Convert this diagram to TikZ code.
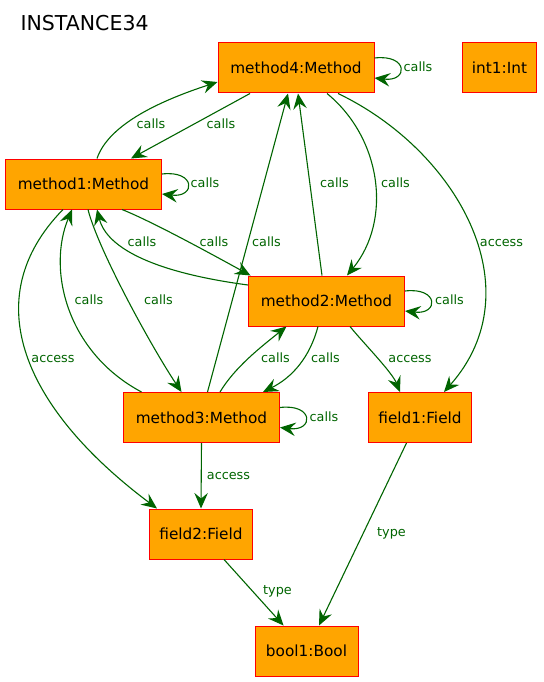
\documentclass[tikz,border=0pt]{standalone}
\usepackage{fontspec}
\setmainfont{DejaVu Sans}
\usetikzlibrary{arrows.meta}
\definecolor{boxfill}{HTML}{FFA500}
\definecolor{edgegreen}{HTML}{006400}

\begin{document}
\begin{tikzpicture}[
  x=1pt, y=-1pt,
  obj/.style={rectangle, draw=red, line width=1pt, fill=boxfill, minimum height=50pt,
    inner sep=0pt, font=\fontsize{15.3}{18}\selectfont},
  meth/.style={obj, minimum width=156pt},
  fld/.style={obj, minimum width=103pt},
  edge/.style={draw=edgegreen, line width=1.1pt, -{Stealth[length=15.5pt, width=13.5pt, inset=5.5pt]}},
  lbl/.style={text=edgegreen, inner sep=0pt, text height=9pt, text depth=0pt,
    font=\fontsize{12.8}{15}\selectfont}
]
\useasboundingbox (0,0) rectangle (543,682);

\node[anchor=base west, font=\fontsize{20.5}{24}\selectfont] (title) at (17,31) {INSTANCE34};

\node[meth] (m4) at (296,68) {method4:Method};
\node[obj, minimum width=74pt] (int1) at (499.5,68) {int1:Int};
\node[meth] (m1) at (83.5,184) {method1:Method};
\node[meth] (m2) at (326.5,301) {method2:Method};
\node[meth] (m3) at (201.5,417.5) {method3:Method};
\node[fld] (f1) at (420,417.5) {field1:Field};
\node[fld] (f2) at (201,534) {field2:Field};
\node[fld] (b1) at (306.5,651) {bool1:Bool};

% self calls
\foreach \m in {m4,m1,m2,m3} {
  \draw[edge] ([yshift=10pt]\m.east) .. controls +(34,-4) and +(34,4) .. ([yshift=-10pt]\m.east);
}
\node[lbl] (l44) at (418,67) {calls};
\node[lbl] (l11) at (205,183) {calls};
\node[lbl] (l22) at (449.5,299.5) {calls};
\node[lbl] (l33) at (324,416.5) {calls};

% calls between methods
\draw[edge] ([xshift=13.5pt]m1.north) .. controls +(12,-35) and +(-55,18) .. ([yshift=-14pt]m4.west);
\draw[edge] ([xshift=-46pt]m4.south) -- ([xshift=47.5pt]m1.north);
\draw[edge] ([xshift=6pt]m3.north) -- ([xshift=-8pt]m4.south);
\draw[edge] ([xshift=-4.5pt]m2.north) -- ([xshift=2pt]m4.south);
\draw[edge] ([xshift=31pt]m4.south) .. controls +(55,45) and +(45,-55) .. ([xshift=20.5pt]m2.north);
\draw[edge] ([xshift=38.5pt]m1.south) .. controls +(30,12) and +(-40,-22) .. ([xshift=-76pt]m2.north);
\draw[edge] ([yshift=16pt]m2.west) .. controls +(-90,-12) and +(10,40) .. ([xshift=13.5pt]m1.south);
\draw[edge] ([xshift=4.5pt]m1.south) .. controls +(10,40) and +(-30,-45) .. ([xshift=-20pt]m3.north);
\draw[edge] ([xshift=-60pt]m3.north) .. controls +(-75,-40) and +(-25,60) .. ([xshift=-11.5pt]m1.south);
\draw[edge] ([xshift=18.5pt]m3.north) .. controls +(15,-25) and +(-25,20) .. ([xshift=-40pt]m2.south);
\draw[edge] ([xshift=-8.5pt]m2.south) .. controls +(-8,30) and +(30,-15) .. ([xshift=61.5pt]m3.north);

\node[lbl] (l14) at (151,124) {calls};
\node[lbl] (l41) at (221,124) {calls};
\node[lbl] (l24) at (334.5,183) {calls};
\node[lbl] (l42) at (395.5,183) {calls};
\node[lbl] (l21) at (142,241.5) {calls};
\node[lbl] (l12) at (214,241.5) {calls};
\node[lbl] (l34) at (266.5,241.5) {calls};
\node[lbl] (l31) at (89,299.5) {calls};
\node[lbl] (l13) at (158.5,299.5) {calls};
\node[lbl] (l32) at (275.5,358) {calls};
\node[lbl] (l23) at (325.5,358) {calls};

% access and type
\draw[edge] ([xshift=42pt]m4.south) .. controls +(119,57) and +(91,-103) .. ([xshift=24pt]f1.north);
\draw[edge] ([xshift=-20.5pt]m1.south) .. controls +(-88,90) and +(-132,-99) .. ([xshift=-44pt]f2.north);
\draw[edge] ([xshift=23.5pt]m2.south) .. controls +(12,15) and +(-8,-20) .. ([xshift=-20pt]f1.north);
\draw[edge] (m3.south) -- (f2.north);
\draw[edge] ([xshift=23pt]f2.south) -- ([xshift=-23pt]b1.north);
\draw[edge] ([xshift=-13.5pt]f1.south) -- ([xshift=12.5pt]b1.north);

\node[lbl] (a4) at (501.5,241.5) {access};
\node[lbl] (a1) at (53,358) {access};
\node[lbl] (a2) at (410,358) {access};
\node[lbl] (a3) at (228.5,474.5) {access};
\node[lbl] (t1) at (391.5,532) {type};
\node[lbl] (t2) at (277.5,590) {type};

\end{tikzpicture}
\end{document}
